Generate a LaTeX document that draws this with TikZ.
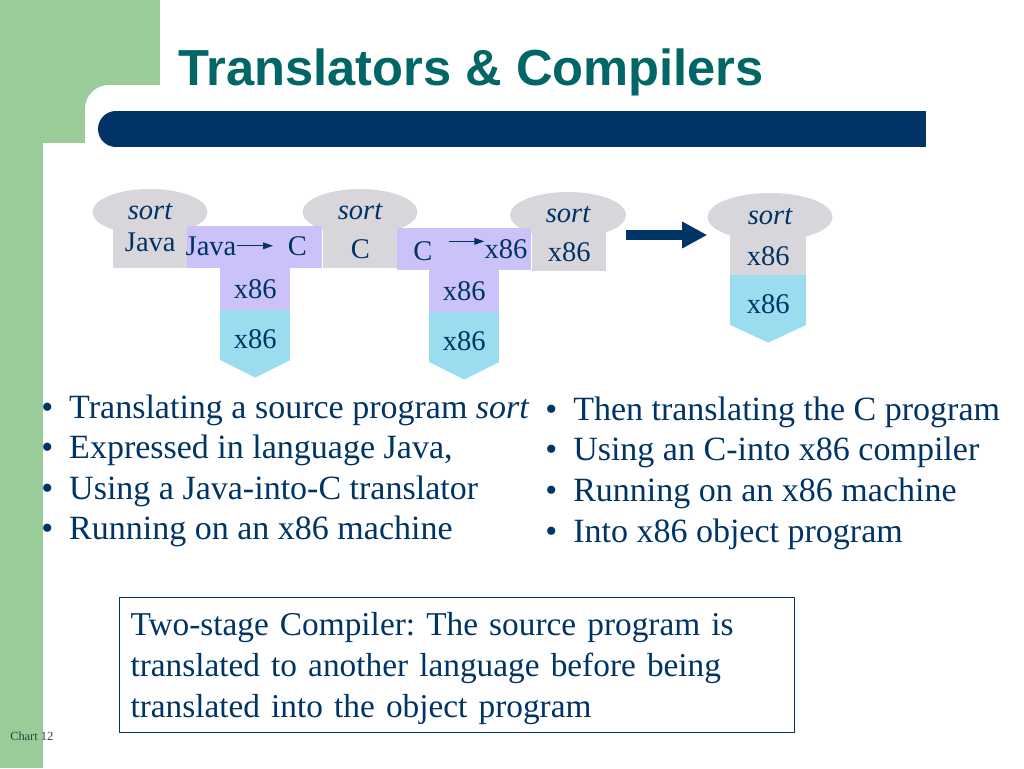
\documentclass[tikz,border=0pt]{standalone}
\usepackage{fontspec}
\setmainfont{Liberation Serif}
\newfontfamily\titlefont{Liberation Sans}
\usetikzlibrary{shapes.geometric,arrows.meta}
\definecolor{navy}{HTML}{003366}
\definecolor{titleteal}{HTML}{006666}
\definecolor{leafgreen}{HTML}{99CC99}
\definecolor{capgray}{HTML}{D8D5DB}
\definecolor{lilac}{HTML}{CCC2FA}
\definecolor{x86cyan}{HTML}{99DDEE}
\definecolor{chartink}{HTML}{1F4A3A}
\newcommand{\tdsize}{\fontsize{21.4pt}{25pt}\selectfont}
\newcommand{\bigsize}{\fontsize{25.5pt}{30.75pt}\selectfont}
\newcommand{\notesize}{\fontsize{25pt}{30.75pt}\selectfont\frenchspacing}
\begin{document}
\begin{tikzpicture}[x=0.75pt,y=-0.75pt, line join=round,
    every node/.style={text=navy},
    sortcap/.style={ellipse,fill=capgray,inner sep=0,minimum width=86.25pt,minimum height=34.5pt,font=\tdsize\itshape},
    progbox/.style={fill=capgray,inner sep=0,minimum width=55.5pt,minimum height=34.5pt,font=\tdsize,text height=20pt,text depth=0pt,anchor=south west},
    transbox/.style={fill=lilac,inner sep=0,minimum height=31.5pt,font=\tdsize,anchor=north west},
    machbox/.style={fill=x86cyan,inner sep=0,minimum width=52.5pt,minimum height=37.5pt,font=\tdsize,text height=20pt,text depth=0pt,anchor=north west},
    tdtext/.style={font=\tdsize,inner sep=0,anchor=base},
    point/.style={font=\bigsize,inner sep=0,anchor=base west},
    notebox/.style={draw=navy,line width=0.75pt,fill=white,font=\notesize,align=left,text width=489.75pt,inner xsep=8.25pt,inner ysep=4pt,minimum height=101.25pt},
    tinyarrow/.style={-{Triangle[length=7.5pt,width=5pt]},line width=0.9pt,draw=navy},
    bigarrow/.style={-{Triangle[length=18.75pt,width=18.75pt]},line width=7.5pt,draw=navy}]
    \useasboundingbox (0,0) rectangle (1024,768);
    % slide frame
    \fill[white] (0,0) rectangle (1024,768);
    \fill[leafgreen] (0,0) rectangle (160,143);
    \fill[leafgreen] (0,0) rectangle (43,768);
    \fill[white,rounded corners=18pt] (85,85) rectangle (1000,400);
    \fill[navy] (116,111) rectangle (926,147);
    \fill[navy] (116,129) circle[radius=13.5pt];
    \node[anchor=base west,inner sep=0,text=titleteal,font=\titlefont\bfseries\fontsize{38pt}{44pt}\selectfont] (title) at (178,85) {Translators \& Compilers};
    % T-diagrams
    \node[sortcap] (s1) at (150,212) {sort};
    \node[sortcap] (s2) at (360,212) {sort};
    \node[sortcap,minimum width=87pt] (s3) at (568,215) {sort};
    \node[sortcap,minimum width=93.75pt,minimum height=36pt] (s4) at (770,217) {sort};
    \node[progbox,text height=10.5pt] (g1) at (113,268) {Java};
    \node[progbox] (g2) at (323,268) {C};
    \node[progbox] (g3) at (532,271) {x86};
    \node[progbox,minimum width=57pt] (g4) at (730,275) {x86};
    \node[transbox,minimum width=101.25pt] (tr1) at (187,226) {};
    \node[transbox,minimum width=100.5pt] (tr2) at (397,228) {};
    \node[transbox,minimum width=52.5pt] (host1) at (220,268) {x86};
    \node[transbox,minimum width=52.5pt] (host2) at (429,270) {x86};
    \node[machbox] (mach1) at (220,310) {x86};
    \node[machbox] (mach2) at (429,312) {x86};
    \node[machbox,minimum width=57pt] (mach4) at (730,275) {x86};
    \foreach \m in {mach1,mach2,mach4}
    \fill[x86cyan] ([yshift=0.5pt]\m.south west) -- ([yshift=0.5pt]\m.south east) -- ([yshift=-12.75pt]\m.south) -- cycle;
    \node[tdtext] (tr1in) at (211,255) {Java};
    \node[tdtext] (tr1out) at (297.5,255) {C};
    \node[tdtext] (tr2in) at (423,260) {C};
    \node[tdtext] (tr2out) at (506,258) {x86};
    \draw[tinyarrow,shorten >=11pt] (tr1in.east) -- (tr1in.east -| tr1out.west);
    \coordinate (a2) at ([xshift=12pt,yshift=7pt]tr2in.east);
    \draw[tinyarrow] (a2) -- (a2 -| tr2out.west);
    \coordinate (go) at ([yshift=-15pt]s3.east);
    \draw[bigarrow] (go) -- (go -| s4.west);
    % bullets
    \foreach \t [count=\i] in {Translating a source program \textit{sort},{Expressed in language Java,},Using a Java-into-C translator,Running on an x86 machine}
    \node[point] (left\i) at (41,{418+40.5*(\i-1)}) {\makebox[21pt][l]{\textbullet}\t};
    \foreach \t [count=\i] in {Then translating the C program,Using an C-into x86 compiler,Running on an x86 machine,Into x86 object program}
    \node[point] (right\i) at (545,{420+40.7*(\i-1)}) {\makebox[21pt][l]{\textbullet}\t};
    \node[notebox,anchor=north west] (note) at (119,597) {\rule{0pt}{23pt}Two-stage Compiler: The source program is\\translated to another language before being\\translated into the object program};
    \node[anchor=base west,inner sep=0,text=chartink,font=\fontsize{9.3pt}{11pt}\selectfont] (chart) at (10,740) {Chart 12};
\end{tikzpicture}
\end{document}
